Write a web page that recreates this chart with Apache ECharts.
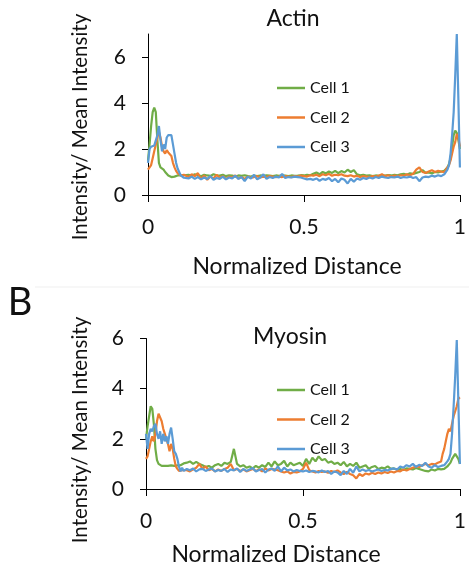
<!DOCTYPE html>
<html><head><meta charset="utf-8">
<script src="https://cdn.jsdelivr.net/npm/echarts@6/dist/echarts.min.js"></script>
<style>html,body{margin:0;padding:0;background:#fff}#c{width:469px;height:569px}</style>
</head><body><div id="c"></div>
<script>
// Normalized distance sample positions (finer near the cell edges)
const xs = [0,0.005,0.01,0.015,0.02,0.025,0.03,0.035,0.04,0.045,0.05,0.055,0.06,0.065,0.07,0.075,0.08,0.085,0.09,0.095,0.1,0.105,0.11,0.115,0.12,
0.13,0.14,0.15,0.16,0.17,0.18,0.19,0.2,
0.21,0.22,0.23,0.24,0.25,0.26,0.27,0.28,0.29,0.3,
0.31,0.32,0.33,0.34,0.35,0.36,0.37,0.38,0.39,0.4,
0.41,0.42,0.43,0.44,0.45,0.46,0.47,0.48,0.49,0.5,
0.51,0.52,0.53,0.54,0.55,0.56,0.57,0.58,0.59,0.6,
0.61,0.62,0.63,0.64,0.65,0.66,0.67,0.68,0.69,0.7,
0.71,0.72,0.73,0.74,0.75,0.76,0.77,0.78,0.79,0.8,
0.81,0.82,0.83,0.84,0.85,0.86,0.87,0.88,0.89,0.9,
0.91,0.92,0.93,0.94,
0.945,0.95,0.955,0.96,0.965,0.97,0.975,0.98,0.985,0.99,0.995,1];

const seriesNames = ['Cell 1','Cell 2','Cell 3'];
const xTicks = [0,0.5,1];
const yTicksActin = [0,2,4,6];
const yTicksMyosin = [0,2,4,6];

// Actin
const actinCell1 = [1.5,2.2,3.0,3.6,3.8,3.6,2.4,1.4,1.2,1.15,1.1,1.0,0.95,0.85,0.8,0.78,0.8,0.8,0.82,0.85,0.82,0.85,0.84,0.86,0.85,
.88,.84,.9,.86,.82,.88,.85,.83,
.9,.86,.84,.88,.82,.86,.84,.8,.85,.83,
.86,.82,.8,.84,.82,.85,.83,.86,.84,.82,
.85,.83,.86,.84,.82,.85,.83,.84,.86,.85,
.88,.86,.92,.98,.9,1.0,.94,1.02,.96,1.05,
.95,1.04,.98,1.1,1.0,1.08,.9,.86,.88,.84,
.86,.82,.85,.83,.86,.84,.87,.85,.88,.86,
.9,.92,.88,.94,.92,.96,1.0,1.08,.96,.98,
.94,1.0,.98,1.02,
1.0,1.05,1.1,1.2,1.35,1.6,2.1,2.6,2.8,2.7,2.4,2.0];
const actinCell2 = [1.1,1.15,1.3,1.6,1.9,2.2,2.5,2.75,2.5,2.1,1.9,1.8,1.95,1.85,1.9,1.7,1.4,1.2,1.05,0.95,0.9,0.85,0.82,0.88,0.8,
.78,.9,.82,.95,.7,.85,.66,.8,
.72,.88,.75,.82,.7,.8,.76,.85,.72,.78,
.7,.8,.75,.78,.82,.76,.8,.78,.82,.8,
.77,.8,.78,.82,.8,.78,.82,.8,.84,.82,
.8,.86,.84,.88,.82,.9,.86,.92,.84,.88,
.86,.9,.84,.82,.86,.8,.84,.78,.82,.8,
.78,.82,.8,.84,.9,.82,.86,.8,.84,.82,
.86,.84,.9,.86,.92,1.1,1.2,1.0,.96,1.02,
1.08,1.0,1.05,1.02,
1.05,1.0,1.1,1.2,1.3,1.5,1.8,2.1,2.3,2.65,2.5,2.1];
const actinCell3 = [1.4,2.0,2.1,2.1,2.15,2.1,2.6,3.0,2.4,1.9,2.2,2.0,2.5,2.6,2.55,2.6,2.2,1.8,1.4,1.15,1.0,0.85,0.8,0.75,0.82,
.72,.8,.7,.78,.68,.76,.7,.82,
.66,.74,.7,.8,.68,.76,.72,.84,.7,.78,
.6,.8,.72,.88,.68,.76,.9,.7,.78,.74,
.8,.76,.92,.74,.78,.76,.8,.78,.76,.72,
.68,.7,.66,.72,.62,.7,.66,.74,.6,.7,
.55,.72,.66,.5,.7,.58,.72,.66,.74,.7,
.76,.72,.78,.74,.8,.76,.74,.78,.76,.8,
.74,.78,.76,.8,.74,.78,.6,.76,.8,.78,
.84,.8,.86,.82,
.88,.9,.95,1.1,1.3,1.8,2.6,3.6,5.2,7.0,4.2,1.2];

// Myosin
const myosinCell1 = [2.0,2.5,2.9,3.3,3.2,2.6,1.6,1.15,1.0,0.95,0.92,0.9,0.92,0.9,0.92,0.9,0.94,0.9,0.92,0.9,0.94,0.92,0.95,0.98,1.02,
1.05,1.1,1.0,1.08,1.0,.95,.88,.92,
.85,.95,1.0,.92,1.05,1.0,1.08,1.6,1.0,.9,
.95,.85,.9,.82,.92,.85,.95,.88,1.05,.9,
1.1,.95,1.0,1.12,.9,1.05,.95,1.0,1.05,.92,
1.2,1.0,1.25,1.1,1.3,1.15,1.2,1.05,1.1,1.0,
1.05,.95,1.08,.9,1.0,.92,1.05,.85,.9,.95,
.8,.88,.92,.8,.85,.82,.9,.8,.82,.78,
.8,.76,.82,.8,.78,.84,.8,.76,.72,.7,
.78,.74,.8,.78,
.82,.8,.85,.9,.95,1.05,1.2,1.3,1.4,1.35,1.2,1.0];
const myosinCell2 = [1.2,1.3,1.6,1.9,2.1,1.9,2.2,2.7,3.0,3.05,2.7,2.4,2.2,2.0,1.8,1.5,1.8,1.6,1.2,0.9,0.8,0.72,0.7,0.75,0.72,
.75,.7,.78,.85,1.0,.8,.9,.75,
.8,.7,.78,.72,.8,.85,1.0,.75,.8,.72,
.78,.7,.75,.8,.72,.78,.7,.82,.74,.8,
.78,.75,.7,.66,.7,.62,.68,.66,.7,.8,
1.05,.75,.7,.66,.72,.68,.7,.65,.72,.68,
.74,.66,.6,.68,.6,.55,.42,.6,.52,.62,
.58,.65,.6,.66,.62,.68,.64,.7,.66,.72,
.7,.78,.74,.8,.85,.9,.88,.95,1.0,.95,
1.0,.98,1.05,1.1,
1.4,1.6,1.9,2.2,2.4,2.3,2.6,2.9,3.1,3.3,3.6,3.65];
const myosinCell3 = [2.2,1.6,2.2,2.4,2.3,2.5,2.6,2.2,2.0,2.3,1.8,2.2,1.9,2.1,1.8,2.2,2.45,2.0,1.5,1.4,1.2,0.9,0.7,0.85,0.72,
.8,.75,.82,.7,.78,.8,.72,.78,
.82,.7,.76,.72,.8,.68,.78,.74,.82,.68,
.8,.72,.78,.84,.7,.76,.8,.66,.78,.82,
.72,.9,.7,.85,.74,.78,.7,.76,.72,.7,
.74,.68,.72,.7,.66,.74,.68,.72,.6,.7,
.66,.55,.72,.6,.8,.65,.9,.7,.78,.72,
.76,.7,.74,.78,.72,.76,.74,.8,.82,.78,
.9,.85,.95,.9,1.0,.88,.96,.92,1.05,.9,
.85,.95,.88,.92,
.9,.95,1.0,1.1,1.2,1.4,2.2,3.3,4.5,5.94,3.5,1.0];

const colors = ['#70AD47','#ED7D31','#5B9BD5'];
const FONT = 'Lato';
const TXT = '#111';

function pairs(arr){ return xs.map((x,i)=>[x, arr[i]]); }

const actinData = [actinCell1, actinCell2, actinCell3];
const myosinData = [myosinCell1, myosinCell2, myosinCell3];

const series = [];
actinData.forEach((d,k)=>series.push({name:seriesNames[k], type:'line', xAxisIndex:0, yAxisIndex:0, data:pairs(d), symbol:'none', lineStyle:{width:2.2, color:colors[k]}, itemStyle:{color:colors[k]}, animation:false}));
myosinData.forEach((d,k)=>series.push({name:seriesNames[k], type:'line', xAxisIndex:1, yAxisIndex:1, data:pairs(d), symbol:'none', lineStyle:{width:2.2, color:colors[k]}, itemStyle:{color:colors[k]}, animation:false}));

function xAx(g){
  return {gridIndex:g, type:'value', min:0, max:1, interval:0.5,
    axisLine:{show:true, onZero:false, lineStyle:{color:'#000', width:1}},
    axisTick:{show:true, length:7, lineStyle:{color:'#000', width:1}, customValues:xTicks},
    axisLabel:{show:true, margin:22, fontSize:21, fontFamily:FONT, color:TXT, customValues:xTicks},
    splitLine:{show:false}};
}
function yAx(g, max, ticks){
  return {gridIndex:g, type:'value', min:0, max:max, interval:2,
    axisLine:{show:true, lineStyle:{color:'#000', width:1}},
    axisTick:{show:true, length:6, lineStyle:{color:'#000', width:1}, customValues:ticks},
    axisLabel:{show:true, margin:22, fontSize:21, fontFamily:FONT, color:TXT, customValues:ticks},
    splitLine:{show:false}};
}
function legend(top){
  return {orient:'vertical', left:272, top:top, data:seriesNames, icon:'rect', itemWidth:28, itemHeight:2.5,
    itemGap:13.5, textStyle:{fontSize:16, fontFamily:FONT, color:TXT, lineHeight:16}, selectedMode:false};
}
function txt(x,y,text,size,rot){
  return {type:'text', x:x, y:y, rotation:rot||0, silent:true,
    style:{text:text, fontSize:size, fontFamily:FONT, fill:TXT, textAlign:'center', textVerticalAlign:'middle'}};
}

const chart = echarts.init(document.getElementById('c'), null, {renderer:'canvas'});
chart.setOption({
  backgroundColor:'#fff',
  animation:false,
  grid:[{left:148, top:34, width:312, height:161}, {left:146, top:338.5, width:318, height:150.5}],
  xAxis:[xAx(0), xAx(1)],
  yAxis:[yAx(0,7,yTicksActin), yAx(1,6,yTicksMyosin)],
  legend:[legend(75), legend(377)],
  series:series,
  graphic:[
    {type:'line', silent:true, shape:{x1:35, y1:287, x2:469, y2:287}, style:{stroke:'#efefef', lineWidth:1}},
    txt(293,19,'Actin',23),
    txt(290,337,'Myosin',23),
    txt(297,267,'Normalized Distance',23),
    txt(276,555,'Normalized Distance',23),
    txt(80,127,'Intensity/ Mean Intensity',20.5,Math.PI/2),
    txt(80,430,'Intensity/ Mean Intensity',20.5,Math.PI/2),
    txt(20,303,'B',38)
  ]
});
</script></body></html>
